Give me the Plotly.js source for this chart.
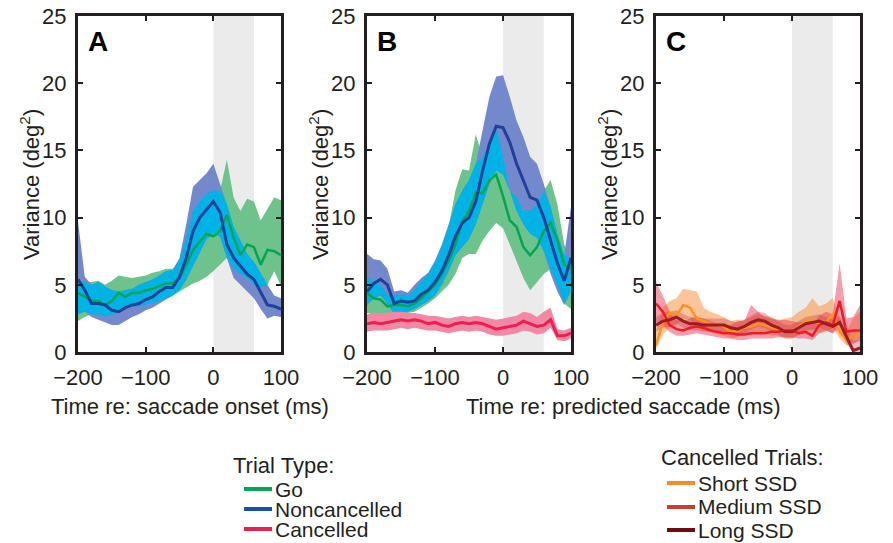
<!DOCTYPE html>
<html>
<head>
<meta charset="utf-8">
<script src="https://cdn.plot.ly/plotly-3.0.1.min.js"></script>
<style>html,body{margin:0;padding:0;background:#fff;}#chart{width:893px;height:543px;}</style>
</head>
<body>
<div id="chart"></div>
<script>
// ---------- data ----------
const timeMs = [-200,-190,-180,-170,-160,-150,-140,-130,-120,-110,-100,-90,-80,-70,-60,-50,-40,-30,-20,-10,0,10,20,30,40,50,60,70,80,90,100];
const xTicks = [-200,-100,0,100];
const yTicks = [0,5,10,15,20,25];
const shadeStart = 0;
const shadeEnd = 60;

// Panel A (aligned on saccade onset)
const aGoMean = [4.4,4.1,3.8,3.8,3.5,3.8,4.4,4.1,4.4,4.4,4.6,4.7,4.9,5.1,5.1,5.5,6.5,7.6,8.2,8.8,8.6,9.0,10.2,8.5,7.2,8.0,7.8,6.5,7.6,7.5,7.2];
const aGoLo   = [2.3,2.6,2.8,2.8,2.6,2.8,3.0,3.3,3.4,3.4,3.5,3.6,3.8,4.0,4.2,4.5,4.8,5.1,5.3,5.6,6.0,6.5,7.0,6.2,5.8,5.5,5.0,4.8,5.0,6.0,4.9];
const aGoHi   = [5.2,5.2,5.2,5.3,5.0,5.3,5.7,5.6,5.5,5.6,5.7,5.9,6.0,6.2,6.2,6.8,8.5,10.5,11.2,11.8,12.0,12.0,14.3,11.5,10.5,11.4,11.2,9.8,10.6,11.5,11.3];
const aNcMean = [5.4,4.6,3.6,3.6,3.5,3.1,3.0,3.3,3.5,3.6,3.9,4.1,4.5,4.8,4.8,5.6,7.0,9.0,10.0,10.6,11.2,10.4,8.0,7.0,6.4,5.8,5.4,4.4,3.5,3.4,3.2];
const aNcLo   = [2.8,3.0,2.6,2.4,2.2,2.0,2.0,2.3,2.6,2.8,3.1,3.3,3.6,3.9,4.2,4.6,5.4,6.4,7.4,8.4,8.8,8.6,7.0,5.5,5.0,4.5,4.0,3.2,2.5,2.7,2.6];
const aNcHi   = [9.7,5.6,5.0,5.2,4.9,4.6,4.5,4.6,4.7,5.0,5.2,5.4,5.7,6.0,6.1,7.0,9.5,12.3,12.8,13.3,14.0,12.5,11.0,9.3,8.3,7.3,6.7,5.8,5.0,4.2,4.0];

// Panel B (aligned on predicted saccade)
const bGoMean = [4.4,4.0,3.9,3.4,3.5,3.5,3.4,3.6,4.0,4.5,5.0,5.8,6.8,8.0,9.7,10.5,11.9,11.8,12.8,13.2,11.6,9.8,9.3,7.8,7.2,7.8,9.0,9.6,8.3,6.5,6.2];
const bGoLo   = [2.9,2.8,2.9,2.6,2.8,2.9,2.9,3.0,3.3,3.6,4.0,4.5,5.0,5.8,7.0,7.3,7.3,8.3,9.0,9.6,9.2,8.0,6.8,5.5,4.6,5.2,5.8,6.2,5.0,3.6,3.2];
const bGoHi   = [5.6,5.2,5.0,4.2,4.2,4.3,4.2,4.6,5.2,5.8,6.6,7.8,9.3,12.0,13.6,13.5,16.2,14.5,15.5,16.7,14.5,12.0,11.5,10.5,10.5,11.0,12.0,12.8,11.0,8.0,7.0];
const bNcMean = [4.5,5.1,5.4,5.0,3.6,3.8,3.7,3.8,4.3,4.6,5.2,6.0,7.2,8.6,9.6,10.0,11.2,13.5,15.5,16.8,16.7,15.6,14.0,12.8,11.5,11.3,10.0,8.3,6.6,5.3,7.0];
const bNcLo   = [3.5,4.0,4.2,3.6,2.8,3.0,3.0,3.2,3.5,3.8,4.2,5.0,6.0,7.2,7.8,8.4,9.5,11.0,12.5,13.5,13.2,12.0,10.5,9.5,8.8,8.5,7.5,5.8,4.5,3.5,4.5];
const bNcHi   = [7.3,6.9,6.8,6.2,4.5,4.6,4.4,5.0,5.5,5.9,6.8,8.0,9.5,11.0,12.0,12.8,14.0,16.5,19.0,20.5,20.6,19.0,17.2,16.0,14.5,14.0,12.5,10.8,8.8,7.2,10.8];
const bCaMean = [2.1,2.2,2.1,2.2,2.3,2.4,2.3,2.4,2.3,2.1,2.2,2.0,1.9,2.1,2.2,2.1,2.2,2.1,1.9,1.7,1.8,1.9,2.0,2.3,2.1,1.9,2.0,2.4,1.2,1.2,1.4];
const bCaLo   = [1.5,1.6,1.6,1.6,1.7,1.8,1.7,1.8,1.7,1.6,1.6,1.5,1.4,1.5,1.6,1.5,1.6,1.5,1.3,1.2,1.2,1.3,1.4,1.6,1.5,1.3,1.4,1.8,0.9,0.8,1.0];
const bCaHi   = [2.8,2.9,2.9,2.9,3.0,3.0,2.9,2.9,2.8,2.7,2.7,2.6,2.5,2.6,2.7,2.6,2.7,2.6,2.5,2.4,2.5,2.6,2.7,3.0,2.9,2.6,3.0,3.3,1.7,1.6,1.8];

// Panel C (cancelled trials by SSD)
const cShortMean = [0.5,2.2,2.9,2.7,3.5,3.3,2.5,2.3,2.1,2.0,1.9,1.5,1.6,1.8,1.9,2.1,2.0,1.8,1.7,1.6,1.5,1.9,2.3,2.4,2.1,2.2,2.8,1.5,0.9,1.2,1.3];
const cShortLo   = [0.2,1.3,1.8,2.0,2.5,2.4,1.8,1.6,1.5,1.3,1.2,1.0,1.1,1.3,1.3,1.5,1.4,1.2,1.2,1.0,1.0,1.3,1.5,1.6,1.4,1.5,1.8,1.0,0.5,0.7,0.8];
const cShortHi   = [1.5,3.3,3.8,4.0,4.7,4.6,4.5,3.3,3.0,2.8,2.6,2.3,2.4,2.4,2.6,2.8,2.7,2.6,2.3,2.5,2.6,3.0,3.3,4.0,3.4,3.6,4.0,2.5,1.5,2.5,3.0];
const cMedMean = [3.6,3.0,2.0,1.7,1.6,1.8,1.9,1.8,1.6,1.5,1.4,1.4,1.3,1.3,1.4,1.4,1.4,1.5,1.5,1.6,1.6,1.4,1.5,1.2,2.0,2.2,2.0,3.8,1.5,1.6,1.6];
const cMedLo   = [2.2,2.0,1.5,1.2,1.2,1.3,1.4,1.3,1.2,1.1,1.0,1.0,0.9,0.9,1.0,1.0,1.0,1.0,1.1,1.1,1.1,1.0,1.0,0.9,1.4,1.6,1.4,2.2,0.8,0.6,0.9];
const cMedHi   = [5.2,4.2,3.0,2.4,2.3,2.5,2.6,2.5,2.3,2.1,2.0,2.0,2.3,2.3,3.5,3.0,2.6,2.5,2.4,2.4,2.3,2.2,2.3,2.0,2.7,3.0,2.8,6.6,2.5,2.6,3.5];
const cLongMean = [2.0,2.3,2.4,2.6,2.3,2.1,2.1,2.0,2.0,2.0,2.0,1.8,1.7,1.9,2.2,2.4,2.3,2.0,1.8,1.5,1.5,1.8,2.1,2.2,2.3,2.1,1.9,2.2,1.2,0.1,0.3];
const cLongLo   = [1.5,1.8,1.9,2.1,1.8,1.6,1.6,1.5,1.5,1.5,1.5,1.3,1.2,1.4,1.7,1.9,1.8,1.5,1.3,1.0,1.0,1.3,1.6,1.7,1.8,1.6,1.4,1.7,0.6,0.0,0.0];
const cLongHi   = [2.6,2.9,3.0,3.1,2.8,2.6,2.6,2.5,2.5,2.5,2.5,2.3,2.2,2.4,2.7,3.0,2.9,2.5,2.3,2.0,2.0,2.3,2.6,2.7,2.8,2.6,2.4,2.7,1.8,0.8,0.9];

// ---------- styles ----------
const INK = '#231f20';
const FONT = 'Liberation Sans, Arial, Helvetica, sans-serif';
const FS = 22;
const LFS = 21;
const C = {
  goLine:'#00a651', goBand:'#6ec38c',
  ncLine:'#21409a', ncBand:'#7389cc', overlap:'#00b3e6',
  caLine:'#ee1d52', caBand:'#f188a4',
  shortLine:'#f7941d', shortBand:'rgba(249,150,70,0.55)',
  medLine:'#ed1c24', medBand:'rgba(236,60,85,0.5)',
  longLine:'#9e1b20', longBand:'rgba(200,60,70,0.35)'
};

// overlap of two bands (region shared by both)
function overlapBand(lo1, hi1, lo2, hi2) {
  const lo = [], hi = [];
  for (let i = 0; i < lo1.length; i++) {
    const l = Math.max(lo1[i], lo2[i]);
    const h = Math.min(hi1[i], hi2[i]);
    lo.push(l); hi.push(h > l ? h : l);
  }
  return {lo, hi};
}

function band(lo, hi, color, xa, ya) {
  return [
    {x: timeMs, y: lo, xaxis: xa, yaxis: ya, type: 'scatter', mode: 'lines',
     line: {width: 0, color: color}, showlegend: false, hoverinfo: 'skip'},
    {x: timeMs, y: hi, xaxis: xa, yaxis: ya, type: 'scatter', mode: 'lines',
     line: {width: 0, color: color}, fill: 'tonexty', fillcolor: color,
     showlegend: false, hoverinfo: 'skip'}
  ];
}
function meanLine(y, color, w, xa, ya, name) {
  return {x: timeMs, y: y, xaxis: xa, yaxis: ya, type: 'scatter', mode: 'lines',
          name: name, line: {width: w, color: color}, showlegend: false};
}

const aOv = overlapBand(aGoLo, aGoHi, aNcLo, aNcHi);
const bOv = overlapBand(bGoLo, bGoHi, bNcLo, bNcHi);

const traces = [].concat(
  band(aGoLo, aGoHi, C.goBand, 'x', 'y'),
  band(aNcLo, aNcHi, C.ncBand, 'x', 'y'),
  band(aOv.lo, aOv.hi, C.overlap, 'x', 'y'),
  [meanLine(aGoMean, C.goLine, 2.5, 'x', 'y', 'Go'),
   meanLine(aNcMean, C.ncLine, 3, 'x', 'y', 'Noncancelled')],

  band(bGoLo, bGoHi, C.goBand, 'x2', 'y2'),
  band(bNcLo, bNcHi, C.ncBand, 'x2', 'y2'),
  band(bOv.lo, bOv.hi, C.overlap, 'x2', 'y2'),
  band(bCaLo, bCaHi, C.caBand, 'x2', 'y2'),
  [meanLine(bGoMean, C.goLine, 2.5, 'x2', 'y2', 'Go'),
   meanLine(bNcMean, C.ncLine, 3, 'x2', 'y2', 'Noncancelled'),
   meanLine(bCaMean, C.caLine, 3, 'x2', 'y2', 'Cancelled')],

  band(cShortLo, cShortHi, C.shortBand, 'x3', 'y3'),
  band(cMedLo, cMedHi, C.medBand, 'x3', 'y3'),
  band(cLongLo, cLongHi, C.longBand, 'x3', 'y3'),
  [meanLine(cShortMean, C.shortLine, 2.5, 'x3', 'y3', 'Short SSD'),
   meanLine(cMedMean, C.medLine, 2.5, 'x3', 'y3', 'Medium SSD'),
   meanLine(cLongMean, C.longLine, 3, 'x3', 'y3', 'Long SSD')]
);

// ---------- layout ----------
const W = 893, H = 543;
const px = v => v / W;
const py = v => 1 - v / H;
const yDom = [py(352), py(16)];

function xAxis(dom, anchor) {
  return {domain: dom, anchor: anchor, range: [-200, 100], tickvals: xTicks,
    ticks: 'inside', ticklen: 5, tickwidth: 2, tickcolor: INK,
    showline: true, linewidth: 3, linecolor: INK, mirror: 'allticks',
    showgrid: false, zeroline: false, fixedrange: true,
    tickfont: {family: FONT, size: FS, color: INK}, ticklabelstandoff: 4};
}
function yAxis(anchor) {
  return {domain: yDom, anchor: anchor, range: [0, 25], tickvals: yTicks,
    ticks: 'inside', ticklen: 5, tickwidth: 2, tickcolor: INK,
    showline: true, linewidth: 3, linecolor: INK, mirror: 'allticks',
    showgrid: false, zeroline: false, fixedrange: true,
    tickfont: {family: FONT, size: FS, color: INK}, ticklabelstandoff: 4};
}

const annFont = {family: FONT, size: FS, color: INK};
const legFont = {family: FONT, size: LFS, color: INK};
const annotations = [];
const shapes = [];

// shaded window in each panel
[['x','y'],['x2','y2'],['x3','y3']].forEach(([xa, ya]) => {
  shapes.push({type: 'rect', xref: xa, yref: ya + ' domain', x0: shadeStart, x1: shadeEnd,
    y0: 0, y1: 1, fillcolor: '#ebebeb', line: {width: 0}, layer: 'below'});
});

// panel letters
[['A', 86], ['B', 375], ['C', 664]].forEach(([t, x]) => {
  annotations.push({text: '<b>' + t + '</b>', xref: 'paper', yref: 'paper', x: px(x), y: py(41),
    xanchor: 'left', yanchor: 'middle', showarrow: false,
    font: {family: FONT, size: 28, color: '#000'}});
});

// y titles
[30, 319, 608].forEach(x => {
  annotations.push({text: 'Variance (deg<sup>2</sup>)', xref: 'paper', yref: 'paper',
    x: px(x), y: py(185), textangle: -90, xanchor: 'center', yanchor: 'middle',
    showarrow: false, font: annFont});
});

// x titles
annotations.push({text: 'Time re: saccade onset (ms)', xref: 'paper', yref: 'paper',
  x: px(190), y: py(406), xanchor: 'center', yanchor: 'middle', showarrow: false, font: annFont});
annotations.push({text: 'Time re: predicted saccade (ms)', xref: 'paper', yref: 'paper',
  x: px(623), y: py(406), xanchor: 'center', yanchor: 'middle', showarrow: false, font: annFont});

// legends (drawn as keys)
const legend1Title = 'Trial Type:';
const legend1Names = ['Go', 'Noncancelled', 'Cancelled'];
const legend1Colors = ['#00a651', '#1f4e9c', '#ee1d4f'];
const legend1Y = [489, 509, 529];
const legend2Title = 'Cancelled Trials:';
const legend2Names = ['Short SSD', 'Medium SSD', 'Long SSD'];
const legend2Colors = ['#f58a2e', '#c4422b', '#6b0d0e'];
const legend2Y = [483, 507, 530];

function addLegend(title, tx, ty, names, colors, ys, lx0, lx1, textX) {
  annotations.push({text: title, xref: 'paper', yref: 'paper', x: px(tx), y: py(ty),
    xanchor: 'left', yanchor: 'middle', showarrow: false, font: annFont});
  names.forEach((n, i) => {
    shapes.push({type: 'line', xref: 'paper', yref: 'paper', x0: px(lx0), x1: px(lx1),
      y0: py(ys[i]), y1: py(ys[i]), line: {color: colors[i], width: 4}});
    annotations.push({text: n, xref: 'paper', yref: 'paper', x: px(textX), y: py(ys[i]),
      xanchor: 'left', yanchor: 'middle', showarrow: false, font: legFont});
  });
}
addLegend(legend1Title, 231, 465, legend1Names, legend1Colors, legend1Y, 244, 272, 273);
addLegend(legend2Title, 659, 457, legend2Names, legend2Colors, legend2Y, 667, 695, 696);

const layout = {
  width: W, height: H, margin: {l: 0, r: 0, t: 0, b: 0},
  paper_bgcolor: '#fff', plot_bgcolor: '#fff', showlegend: false,
  xaxis: xAxis([px(78), px(281)], 'y'),
  yaxis: yAxis('x'),
  xaxis2: xAxis([px(367), px(571)], 'y2'),
  yaxis2: yAxis('x2'),
  xaxis3: xAxis([px(656), px(860)], 'y3'),
  yaxis3: yAxis('x3'),
  shapes: shapes, annotations: annotations
};

Plotly.newPlot('chart', traces, layout, {staticPlot: true, displayModeBar: false});
</script>
</body>
</html>
